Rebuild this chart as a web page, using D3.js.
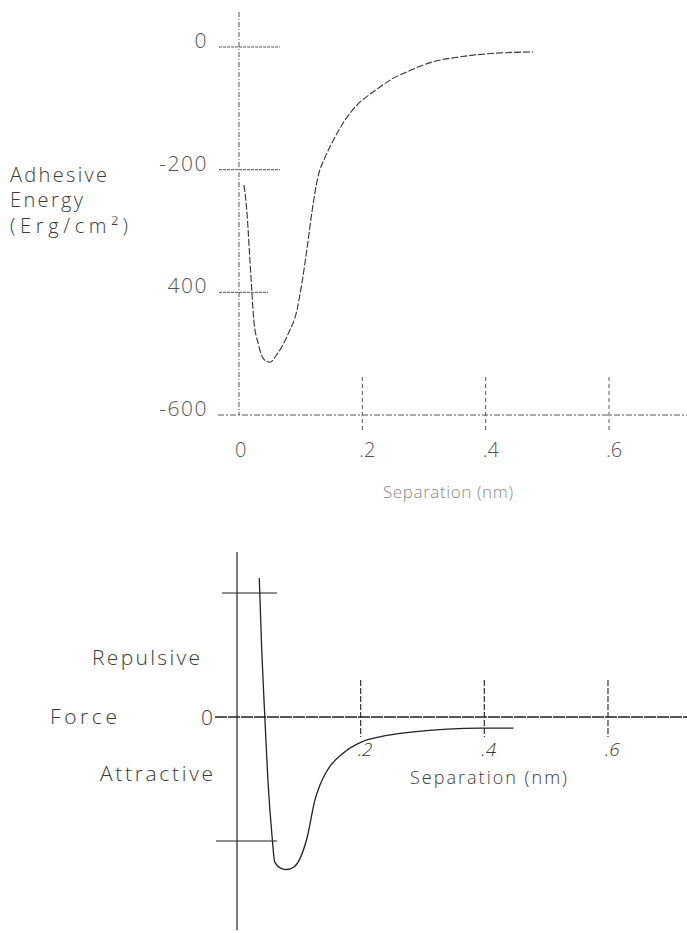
<!DOCTYPE html>
<html>
<head>
<meta charset="utf-8">
<script src="https://d3js.org/d3.v7.min.js"></script>
<style>
  html, body { margin: 0; padding: 0; background: #fff; }
  svg text { font-family: "Open Sans", "DejaVu Sans", sans-serif; font-weight: 300; fill: #3a3a3a; }
</style>
</head>
<body>
<div id="chart"></div>
<script>
// top panel: adhesive energy vs separation
const energySep = [0.008, 0.013, 0.017, 0.021, 0.024, 0.031, 0.042, 0.050, 0.061, 0.080, 0.094, 0.102,
  0.110, 0.118, 0.128, 0.140, 0.153, 0.172, 0.191, 0.218, 0.245, 0.278, 0.315, 0.359, 0.403, 0.477];
const energyVal = [-225, -271, -336, -401, -445, -483, -511, -514, -502, -467, -429, -385,
  -331, -271, -212, -179, -152, -119, -95, -73, -54, -38, -24, -16, -11, -8];
const energyTicks = [0, -200, -400, -600];
const energyTickLabels = ['0', '-200', '400', '-600'];

// bottom panel: force vs separation (arbitrary units, unlabeled ticks at +/-1)
const forceSep = [0.036, 0.040, 0.045, 0.050, 0.057, 0.061, 0.071, 0.081, 0.092, 0.102, 0.113,
  0.126, 0.134, 0.146, 0.172, 0.202, 0.231, 0.285, 0.340, 0.393, 0.447];
const forceVal = [1.12, 0.54, 0, -0.51, -0.98, -1.17, -1.22, -1.23, -1.21, -1.14, -0.98,
  -0.67, -0.55, -0.43, -0.29, -0.20, -0.16, -0.12, -0.097, -0.089, -0.089];
const forceTicks = [1, -1];

const sepTicks = [0.2, 0.4, 0.6];
const sepTickLabels = ['.2', '.4', '.6'];

const W = 687, H = 933;
const svg = d3.select('#chart').append('svg')
  .attr('width', W).attr('height', H);

// wide plotter-style lettering: stretch text to the measured width
function label(g, txt, x, y, size, len) {
  const t = g.append('text').attr('x', x).attr('y', y)
    .style('font-size', size + 'px').text(txt);
  if (len) t.attr('textLength', len).attr('lengthAdjust', 'spacing');
  return t;
}

// ---------- top panel ----------
const x1 = d3.scaleLinear().domain([0, 0.6]).range([239, 609]);
const y1 = d3.scaleLinear().domain([0, -600]).range([47, 415]);
const topG = svg.append('g');
const thin = '#555';

// y axis
topG.append('line')
  .attr('x1', x1(0)).attr('x2', x1(0))
  .attr('y1', y1(57)).attr('y2', y1(-600))
  .attr('stroke', thin).attr('stroke-width', 1).attr('stroke-dasharray', '5,2,1,2');

// x axis
topG.append('line')
  .attr('x1', 218).attr('x2', W)
  .attr('y1', y1(-600)).attr('y2', y1(-600))
  .attr('stroke', thin).attr('stroke-width', 1).attr('stroke-dasharray', '6,2,2,2');

// y tick crosses
topG.selectAll('.ytick').data(energyTicks.slice(0, 3)).enter().append('line')
  .attr('x1', x1(0) - 20).attr('x2', (d, i) => x1(0) + (i === 2 ? 29 : 41))
  .attr('y1', d => y1(d)).attr('y2', d => y1(d))
  .attr('stroke', thin).attr('stroke-width', 1).attr('stroke-dasharray', '3,1');

topG.selectAll('.ylab').data(energyTicks).enter().append('text')
  .attr('x', x1(0) - 31).attr('y', d => y1(d) + 1)
  .attr('text-anchor', 'end')
  .style('font-size', '21px').style('letter-spacing', '1.5px').style('fill', '#555')
  .text((d, i) => energyTickLabels[i]);

// x tick crosses
topG.selectAll('.xtick').data(sepTicks).enter().append('line')
  .attr('x1', d => x1(d)).attr('x2', d => x1(d))
  .attr('y1', y1(-600) - 38).attr('y2', y1(-600) + 18)
  .attr('stroke', thin).attr('stroke-width', 1).attr('stroke-dasharray', '4,3');

topG.selectAll('.xlab').data([0].concat(sepTicks)).enter().append('text')
  .attr('x', d => x1(d) + (d === 0 ? -4 : -3)).attr('y', 457)
  .style('font-size', '20px').style('fill', '#555')
  .text((d, i) => i === 0 ? '0' : sepTickLabels[i - 1]);

// curve
const line1 = d3.line()
  .x((d, i) => x1(energySep[i]))
  .y(d => y1(d))
  .curve(d3.curveMonotoneX);

topG.append('path')
  .attr('d', line1(energyVal))
  .attr('fill', 'none').attr('stroke', '#333').attr('stroke-width', 1.1)
  .attr('stroke-dasharray', '7,2');

label(topG, 'Separation (nm)', 383, 498, 17, 130).style('fill', '#888');

label(topG, 'Adhesive', 10, 182, 20, 97);
label(topG, 'Energy', 10, 207, 20, 73);
label(topG, '(Erg/cm\u00B2)', 10, 233, 20, 118);

// ---------- bottom panel ----------
const x2 = d3.scaleLinear().domain([0, 0.6]).range([237, 608]);
const y2 = d3.scaleLinear().domain([1, -1]).range([593, 841]);
const botG = svg.append('g');
const dark = '#222';

botG.append('line')
  .attr('x1', x2(0)).attr('x2', x2(0))
  .attr('y1', y2(1.33)).attr('y2', y2(-1.72))
  .attr('stroke', dark).attr('stroke-width', 1.2);

botG.append('line')
  .attr('x1', 215).attr('x2', W)
  .attr('y1', y2(0)).attr('y2', y2(0))
  .attr('stroke', dark).attr('stroke-width', 1.3).attr('stroke-dasharray', '12,1');

botG.selectAll('.ytick').data(forceTicks).enter().append('line')
  .attr('x1', d => x2(0) - (d > 0 ? 15 : 21)).attr('x2', x2(0) + 40)
  .attr('y1', d => y2(d)).attr('y2', d => y2(d))
  .attr('stroke', dark).attr('stroke-width', 1.1);

botG.selectAll('.xtick').data(sepTicks).enter().append('line')
  .attr('x1', d => x2(d)).attr('x2', d => x2(d))
  .attr('y1', y2(0) - 37).attr('y2', y2(0) + 20)
  .attr('stroke', dark).attr('stroke-width', 1.1).attr('stroke-dasharray', '6,2');

botG.selectAll('.xlab').data(sepTicks).enter().append('text')
  .attr('x', d => x2(d) - 3).attr('y', 756)
  .style('font-size', '19px').style('font-style', 'italic')
  .text((d, i) => sepTickLabels[i]);

botG.append('text').attr('x', 213).attr('y', y2(0) + 8)
  .attr('text-anchor', 'end')
  .style('font-size', '21px').text('0');

const line2 = d3.line()
  .x((d, i) => x2(forceSep[i]))
  .y(d => y2(d))
  .curve(d3.curveMonotoneX);

botG.append('path')
  .attr('d', line2(forceVal))
  .attr('fill', 'none').attr('stroke', dark).attr('stroke-width', 1.3);

label(botG, 'Separation (nm)', 410, 784, 18, 157);
label(botG, 'Repulsive', 92, 665, 21, 108);
label(botG, 'Force', 50, 724, 21, 67);
label(botG, 'Attractive', 100, 781, 21, 113);
</script>
</body>
</html>
